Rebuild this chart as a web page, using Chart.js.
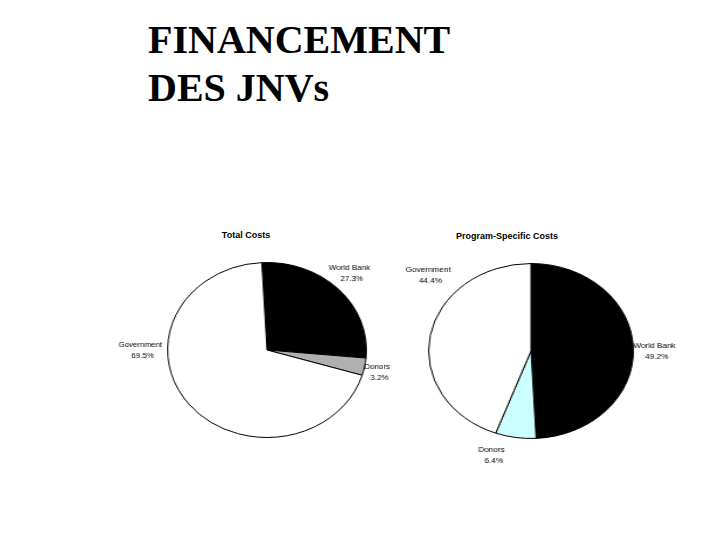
<!DOCTYPE html>
<html>
<head>
<meta charset="utf-8">
<script src="https://cdn.jsdelivr.net/npm/chart.js@4/dist/chart.umd.min.js"></script>
<style>
  body { margin: 0; background: #fff; width: 720px; height: 540px; position: relative; overflow: hidden; }
  #title { position: absolute; left: 148px; top: 16px; font: bold 40px/48px "Liberation Serif", "Times New Roman", serif; color: #000; }
  .sub { position: absolute; font: bold 9px Arial, "Liberation Sans", sans-serif; color: #000; transform: translateX(-50%); white-space: nowrap; }
  .box { position: absolute; width: 300px; height: 240px; transform-origin: 50% 50%; }
</style>
</head>
<body>
<div id="title">FINANCEMENT<br>DES JNVs</div>
<div class="sub" style="left:246px; top:230px;">Total Costs</div>
<div class="sub" style="left:507px; top:231px;">Program-Specific Costs</div>
<div class="box" id="box1" style="left:117px; top:230px; transform:scaleX(1.136);"><canvas id="c1"></canvas></div>
<div class="box" id="box2" style="left:381px; top:231px; transform:scaleX(1.17);"><canvas id="c2"></canvas></div>
<script>
// Total Costs
const totalLabels = ['World Bank', 'Donors', 'Government'];
const totalValues = [27.3, 3.2, 69.5];
// Program-Specific Costs
const progLabels = ['World Bank', 'Donors', 'Government'];
const progValues = [49.2, 6.4, 44.4];

// draws the two-line "name / pct" labels around the pie
const sliceLabels = {
  id: 'sliceLabels',
  afterDraw(chart, args, opts) {
    const ctx = chart.ctx;
    const meta = chart.getDatasetMeta(0);
    const ds = chart.data.datasets[0];
    ctx.save();
    ctx.fillStyle = '#000';
    ctx.font = '7px Arial, "Liberation Sans", sans-serif';
    ctx.textAlign = 'center';
    ctx.textBaseline = 'middle';
    meta.data.forEach((arc, i) => {
      const p = arc.getProps(['x', 'y', 'startAngle', 'endAngle', 'outerRadius'], true);
      let a = (p.startAngle + p.endAngle) / 2;
      if (opts.angles && opts.angles[i] != null) a = (opts.angles[i] - 90) * Math.PI / 180;
      const d = p.outerRadius + (opts.gaps ? opts.gaps[i] : 18);
      const x = p.x + Math.cos(a) * d;
      const y = p.y + Math.sin(a) * d;
      ctx.fillText(chart.data.labels[i], x, y - 5);
      ctx.fillText(ds.data[i].toFixed(1) + '%', x + 2, y + 6);
    });
    ctx.restore();
  }
};

function makePie(id, labels, values, colors, rotation, labelOpts) {
  return new Chart(document.getElementById(id).getContext('2d'), {
    type: 'pie',
    data: {
      labels: labels,
      datasets: [{
        data: values,
        backgroundColor: colors,
        borderColor: '#000',
        borderWidth: 1
      }]
    },
    options: {
      responsive: true,
      maintainAspectRatio: false,
      animation: false,
      rotation: rotation,
      layout: { padding: { top: 32, bottom: 32, left: 62, right: 62 } },
      plugins: {
        legend: { display: false },
        tooltip: { enabled: false },
        title: { display: false },
        sliceLabels: labelOpts
      }
    },
    plugins: [sliceLabels]
  });
}

makePie('c1', totalLabels, totalValues, ['#000000', '#b0b0b0', '#ffffff'], -3,
  { angles: [43.5, 102.7, 270], gaps: [18, 12, 24] });
makePie('c2', progLabels, progValues, ['#000000', '#ccffff', '#ffffff'], 0,
  { angles: [90, 198, 311], gaps: [18, 22, 29] });
</script>
</body>
</html>
